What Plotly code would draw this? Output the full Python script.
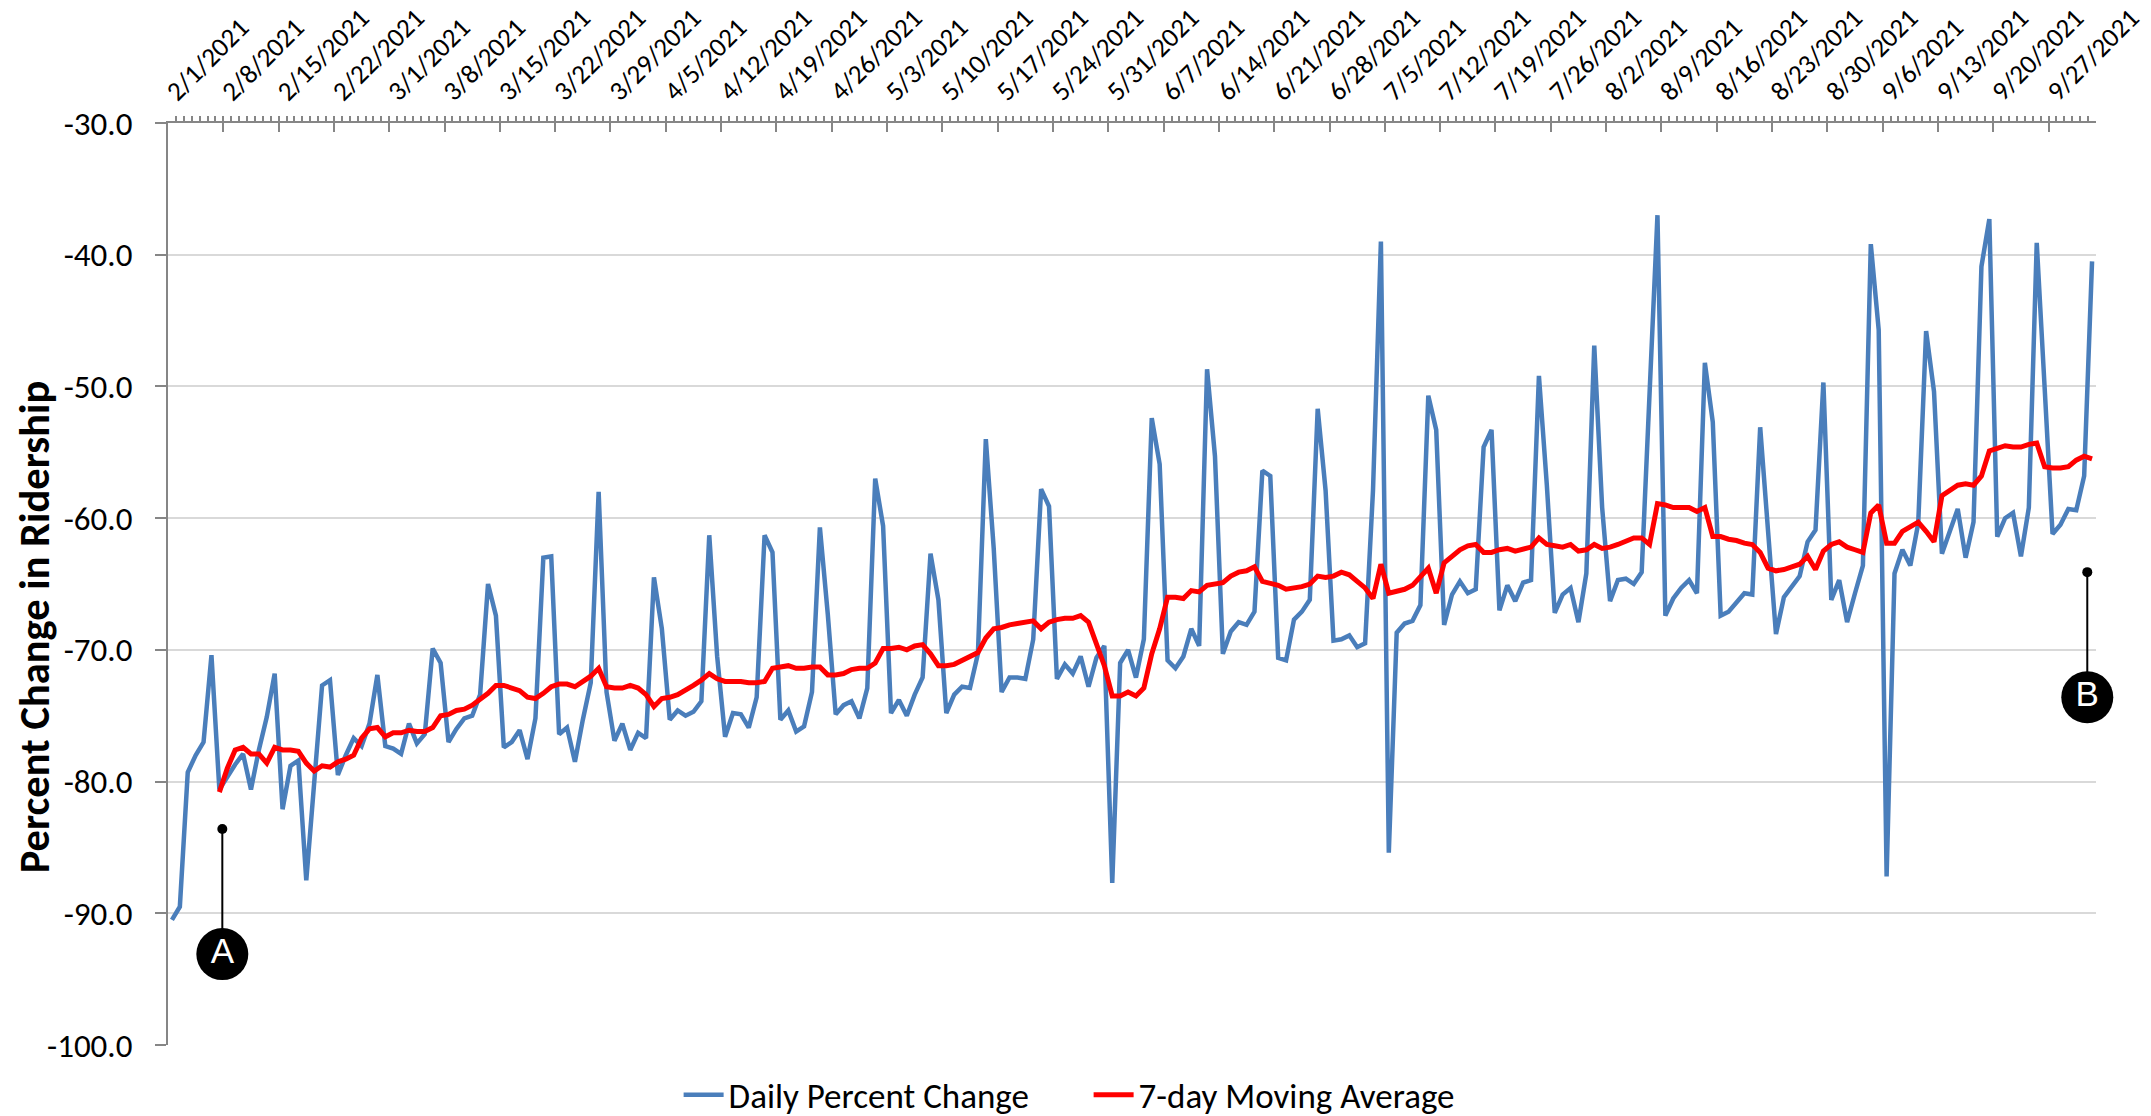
import pandas as pd
import plotly.graph_objects as go

# ---------------- data ----------------
start_date = "2021-02-01"
n_days = 244  # 2/1/2021 .. 10/2/2021
dates = pd.date_range(start_date, periods=n_days, freq="D")

daily_change = [
    -90.5, -89.5, -79.3, -78.0, -77.0, -70.4, -80.6,
    -79.6, -78.7, -77.9, -80.6, -77.6, -75.1, -71.8,
    -82.1, -78.8, -78.4, -87.5, -79.8, -72.7, -72.3,
    -79.5, -78.0, -76.7, -77.3, -75.6, -71.9, -77.3,
    -77.5, -77.9, -75.6, -77.1, -76.4, -69.9, -71.0,
    -77.0, -76.0, -75.2, -75.0, -73.4, -65.0, -67.4,
    -77.4, -77.0, -76.1, -78.3, -75.2, -63.0, -62.9,
    -76.4, -75.9, -78.5, -75.3, -72.5, -58.0, -73.2,
    -76.9, -75.6, -77.6, -76.3, -76.7, -64.5, -68.4,
    -75.3, -74.6, -75.0, -74.7, -73.9, -61.3, -70.5,
    -76.6, -74.8, -74.9, -75.9, -73.6, -61.3, -62.6,
    -75.3, -74.6, -76.2, -75.8, -73.2, -60.7, -67.3,
    -74.9, -74.2, -73.9, -75.2, -72.9, -57.0, -60.6,
    -74.8, -73.8, -75.0, -73.4, -72.1, -62.7, -66.2,
    -74.8, -73.4, -72.8, -72.9, -70.3, -54.0, -62.3,
    -73.2, -72.1, -72.1, -72.2, -69.2, -57.8, -59.1,
    -72.2, -71.1, -71.8, -70.5, -72.8, -70.6, -69.7,
    -87.7, -71.0, -70.0, -72.1, -69.2, -52.4, -55.9,
    -70.8, -71.4, -70.5, -68.4, -69.7, -48.7, -55.3,
    -70.3, -68.6, -67.9, -68.1, -67.1, -56.4, -56.8,
    -70.6, -70.8, -67.7, -67.1, -66.2, -51.7, -57.9,
    -69.3, -69.2, -68.9, -69.8, -69.5, -57.9, -39.0,
    -85.4, -68.7, -68.0, -67.8, -66.6, -50.7, -53.3,
    -68.1, -65.8, -64.8, -65.7, -65.4, -54.6, -53.3,
    -67.0, -65.1, -66.3, -64.9, -64.7, -49.2, -57.5,
    -67.2, -65.8, -65.3, -67.9, -64.2, -46.9, -59.2,
    -66.3, -64.7, -64.6, -65.0, -64.1, -50.5, -37.0,
    -67.4, -66.1, -65.3, -64.7, -65.7, -48.2, -52.7,
    -67.4, -67.1, -66.4, -65.7, -65.8, -53.1, -61.0,
    -68.8, -66.0, -65.2, -64.4, -61.8, -60.9, -49.7,
    -66.2, -64.7, -67.9, -65.7, -63.6, -39.2, -45.7,
    -87.2, -64.2, -62.4, -63.6, -60.4, -45.8, -50.4,
    -62.7, -61.0, -59.3, -63.0, -60.3, -40.9, -37.3,
    -61.4, -60.0, -59.6, -62.9, -59.2, -39.1, -50.1,
    -61.2, -60.5, -59.3, -59.4, -56.8, -40.5,
]

moving_avg = [None] * 6 + [
    -80.8,
    -79.0, -77.6, -77.4, -77.9, -77.9, -78.6, -77.4,
    -77.6, -77.6, -77.7, -78.6, -79.2, -78.8, -78.9,
    -78.5, -78.3, -78.0, -76.7, -76.0, -75.9, -76.6,
    -76.3, -76.3, -76.1, -76.2, -76.2, -75.9, -75.0,
    -74.9, -74.6, -74.5, -74.2, -73.8, -73.3, -72.7,
    -72.7, -72.9, -73.1, -73.6, -73.7, -73.3, -72.8,
    -72.6, -72.6, -72.8, -72.4, -72.0, -71.4, -72.8,
    -72.9, -72.9, -72.7, -72.9, -73.4, -74.3, -73.7,
    -73.6, -73.4, -73.1, -72.7, -72.3, -71.8, -72.2,
    -72.4, -72.4, -72.4, -72.5, -72.5, -72.4, -71.4,
    -71.3, -71.2, -71.4, -71.4, -71.3, -71.3, -71.9,
    -71.9, -71.8, -71.5, -71.4, -71.4, -71.0, -69.9,
    -69.9, -69.8, -70.0, -69.7, -69.6, -70.3, -71.2,
    -71.2, -71.1, -70.8, -70.6, -70.2, -69.1, -68.4,
    -68.3, -68.1, -68.0, -67.9, -67.8, -68.4, -67.9,
    -67.7, -67.6, -67.6, -67.4, -67.9, -69.5, -71.2,
    -73.5, -73.5, -73.2, -73.5, -72.9, -70.3, -68.4,
    -66.0, -66.0, -66.1, -65.5, -65.6, -65.1, -65.0,
    -64.9, -64.4, -64.1, -64.0, -63.7, -64.8, -65.0,
    -65.1, -65.4, -65.3, -65.2, -65.0, -64.4, -64.5,
    -64.4, -64.1, -64.3, -64.8, -65.3, -66.1, -63.5,
    -65.7, -65.5, -65.4, -65.1, -64.5, -63.8, -65.7,
    -63.4, -62.9, -62.4, -62.1, -62.0, -62.6, -62.6,
    -62.4, -62.3, -62.5, -62.3, -62.2, -61.5, -62.0,
    -62.1, -62.2, -62.0, -62.5, -62.4, -62.0, -62.3,
    -62.2, -62.0, -61.8, -61.5, -61.5, -62.0, -58.9,
    -59.0, -59.2, -59.2, -59.2, -59.5, -59.2, -61.4,
    -61.4, -61.6, -61.7, -61.9, -62.0, -62.6, -63.8,
    -64.0, -63.9, -63.7, -63.5, -62.9, -63.9, -62.5,
    -62.0, -61.8, -62.2, -62.4, -62.6, -59.6, -59.0,
    -61.9, -61.9, -61.0, -60.7, -60.3, -61.0, -61.8,
    -58.3, -57.9, -57.5, -57.4, -57.5, -56.8, -54.9,
    -54.7, -54.5, -54.6, -54.6, -54.4, -54.3, -56.1,
    -56.2, -56.2, -56.1, -55.6, -55.3, -55.5,
]

y_ticks = [-100, -90, -80, -70, -60, -50, -40, -30]
y_tick_labels = ["-100.0", "-90.0", "-80.0", "-70.0", "-60.0", "-50.0", "-40.0", "-30.0"]

series_names = ["Daily Percent Change", "7-day Moving Average"]
callout_labels = ["A", "B"]

# ---------------- figure ----------------
FONT = "Carlito, Lato, 'Open Sans', sans-serif"
AXIS_GREY = "#868686"

x_mid = dates + pd.Timedelta(hours=12)

fig = go.Figure()
fig.add_trace(go.Scatter(
    x=x_mid, y=daily_change, mode="lines", name=series_names[0],
    line=dict(color="#4A7EBB", width=4.5),
))
fig.add_trace(go.Scatter(
    x=x_mid, y=moving_avg, mode="lines", name=series_names[1],
    line=dict(color="#FF0000", width=5),
))

# callouts A and B
callouts = [
    (pd.Timestamp("2021-02-07 21:00"), -83.6, -93.1, callout_labels[0]),
    (pd.Timestamp("2021-10-01 21:30"), -64.1, -73.6, callout_labels[1]),
]
for cx, y_dot, y_circ, lab in callouts:
    fig.add_trace(go.Scatter(
        x=[cx, cx], y=[y_dot, y_circ], mode="lines",
        line=dict(color="black", width=2), showlegend=False, hoverinfo="skip",
        cliponaxis=False,
    ))
    fig.add_trace(go.Scatter(
        x=[cx], y=[y_dot], mode="markers",
        marker=dict(color="black", size=10), showlegend=False, hoverinfo="skip",
        cliponaxis=False,
    ))
    fig.add_trace(go.Scatter(
        x=[cx], y=[y_circ], mode="markers+text", text=[lab],
        textposition="middle center",
        textfont=dict(color="white", size=35, family="Liberation Sans, Arial, sans-serif"),
        marker=dict(color="black", size=52, line=dict(width=0)),
        showlegend=False, hoverinfo="skip", cliponaxis=False,
    ))

fig.update_layout(
    width=2151, height=1116,
    margin=dict(l=168, r=55, t=123, b=71, pad=0, autoexpand=False),
    paper_bgcolor="white", plot_bgcolor="white",
    font=dict(family=FONT, color="black"),
    showlegend=True,
    legend=dict(
        orientation="h", xref="paper", yref="paper",
        x=0.4775, y=-0.0542, xanchor="center", yanchor="middle",
        font=dict(size=35, family=FONT, color="black"),
        itemwidth=40, tracegroupgap=0, entrywidth=355,
    ),
    xaxis=dict(
        type="date", side="top", automargin=False,
        range=["2021-02-01", "2021-10-03"],
        tick0="2021-02-01", dtick=7 * 86400000,
        tickformat="%-m/%-d/%Y", tickangle=-45,
        tickfont=dict(size=27, family=FONT, color="black"),
        ticks="inside", ticklen=9, tickwidth=2, tickcolor=AXIS_GREY,
        showline=True, linecolor=AXIS_GREY, linewidth=2,
        showgrid=False, zeroline=False,
        minor=dict(dtick=86400000, tick0="2021-02-01", ticks="outside",
                   ticklen=5, tickwidth=1.5, tickcolor=AXIS_GREY, showgrid=False),
        ticklabelstandoff=4,
    ),
    yaxis=dict(
        range=[-100, -30], tickvals=y_ticks, ticktext=y_tick_labels, automargin=False,
        tickfont=dict(size=33, family=FONT, color="black"),
        ticks="outside", ticklen=11, tickwidth=2, tickcolor=AXIS_GREY,
        showline=True, linecolor=AXIS_GREY, linewidth=2,
        showgrid=True, gridcolor="#D9D9D9", gridwidth=2,
        zeroline=False, ticklabelstandoff=16,
    ),
    annotations=[dict(
        text="<b>Percent Change in Ridership</b>", textangle=-90,
        xref="paper", yref="paper", x=-0.0695, y=0.453,
        xanchor="center", yanchor="middle", showarrow=False,
        font=dict(size=42.5, family=FONT, color="black"),
    )],
)

fig.write_html(
    "out.html",
    config={"displayModeBar": False},
    post_script="document.body.style.margin='0';",
)
